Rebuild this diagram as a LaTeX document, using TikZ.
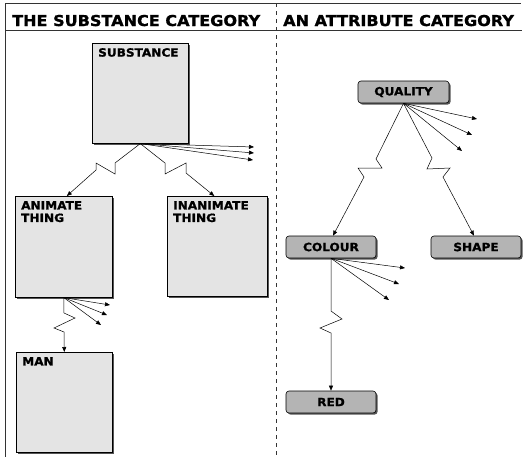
\documentclass[tikz,border=0pt]{standalone}
\usepackage{fontspec}
\setmainfont{DejaVu Sans}
\newfontfamily\heavy{DejaVu Sans Bold}[FakeBold=1.2,FakeStretch=1.07]
\usetikzlibrary{arrows.meta,shadows}
\definecolor{boxfill}{HTML}{E4E4E4}
\definecolor{tagfill}{HTML}{B4B4B4}
\definecolor{shadowgray}{HTML}{555555}
\definecolor{rulegray}{HTML}{333333}
\newcommand{\headfont}{\fontsize{15}{17}\selectfont\heavy}
\newcommand{\boxfont}{\fontsize{11.3}{12.5}\selectfont\heavy}
\begin{document}
\begin{tikzpicture}[x=1pt,y=-1pt,
  frame/.style={draw=rulegray,line width=0.9pt},
  divider/.style={draw=rulegray,line width=0.9pt,dash pattern=on 4pt off 4pt},
  catbox/.style={draw=black,line width=0.6pt,fill=boxfill,anchor=north west,
    minimum width=96pt,minimum height=100pt,inner sep=0pt,
    drop shadow={shadow xshift=1.6pt,shadow yshift=-1.6pt,fill=shadowgray,opacity=1}},
  boxlabel/.style={anchor=north west,inner sep=0pt,align=left,font=\boxfont,
    xshift=6pt,yshift=-5pt},
  tag/.style={draw=black,line width=0.6pt,fill=tagfill,rounded corners=3pt,
    minimum width=90pt,minimum height=22pt,inner sep=0pt,font=\boxfont,
    drop shadow={shadow xshift=1.6pt,shadow yshift=-1.6pt,fill=shadowgray,opacity=1}},
  link/.style={draw=black,line width=0.5pt,-{Triangle[length=5pt,width=4pt]}},
]
\useasboundingbox (0,0) rectangle (523,459);

% frame and column headers
\coordinate (tl) at (5,3);
\coordinate (tr) at (521,3);
\coordinate (hl) at (5,30);
\coordinate (hr) at (522,30);
\coordinate (bl) at (5,457);
\coordinate (dt) at (276,3);
\coordinate (db) at (276,457);
\draw[frame] (tl) -- (tr);
\draw[frame] (hl) -- (hr);
\draw[frame] (tl) -- (bl);
\draw[divider] (dt) -- (db);
\node[anchor=base west,inner sep=0pt,font=\headfont] (h1) at (12,26) {THE SUBSTANCE CATEGORY};
\node[anchor=base west,inner sep=0pt,font=\headfont] (h2) at (283,26) {AN ATTRIBUTE CATEGORY};

% substance category boxes
\node[catbox,label={[boxlabel]north west:SUBSTANCE}] (sub) at (92,43) {};
\node[catbox,minimum width=97pt,minimum height=101pt,
  label={[boxlabel]north west:ANIMATE\\THING}] (ani) at (15,196) {};
\node[catbox,minimum width=100pt,
  label={[boxlabel]north west:INANIMATE\\THING}] (inan) at (167,196) {};
\node[catbox,label={[boxlabel]north west:MAN}] (man) at (16,352) {};

% attribute category tags
\node[tag,minimum width=91pt] (qual) at (403.5,92) {QUALITY};
\node[tag] (col) at (331,247) {COLOUR};
\node[tag] (shp) at (476,247) {SHAPE};
\node[tag] (red) at (331,402) {RED};

% open-ended fans of further subdivisions
\coordinate (sf1) at (254,147);
\coordinate (sf2) at (254,153);
\coordinate (sf3) at (253,160);
\draw[link] (sub.south) -- (sf1);
\draw[link] (sub.south) -- (sf2);
\draw[link] (sub.south) -- (sf3);

\coordinate (af1) at (110,305);
\coordinate (af2) at (107,315);
\coordinate (af3) at (101,325);
\draw[link] (ani.south) -- (af1);
\draw[link] (ani.south) -- (af2);
\draw[link] (ani.south) -- (af3);

\coordinate (qf1) at (477,119);
\coordinate (qf2) at (472,135);
\coordinate (qf3) at (462,151);
\draw[link] (qual.south) -- (qf1);
\draw[link] (qual.south) -- (qf2);
\draw[link] (qual.south) -- (qf3);

\coordinate (cf1) at (405,268);
\coordinate (cf2) at (399,284);
\coordinate (cf3) at (389,300);
\draw[link] (col.south) -- (cf1);
\draw[link] (col.south) -- (cf2);
\draw[link] (col.south) -- (cf3);

% broken (lightning) links
\draw[link] (sub.south) -- (115,163) -- (115,174) -- (96,163) -- (96,170)
  -- ([xshift=3pt]ani.north);
\draw[link] (sub.south) -- (165,163) -- (165,174) -- (186,163) -- (186,173)
  -- ([xshift=-3pt]inan.north);
\draw[link] (ani.south) -- (64,313) -- (75,318) -- (54,328) -- (64,332)
  -- (man.north);
\draw[link] (qual.south) -- (376,159) -- (382,168) -- (358,168) -- (364,177)
  -- ([xshift=2pt]col.north);
\draw[link] (qual.south) -- (432,158) -- (427,169) -- (450,168) -- (443,177)
  -- ([xshift=-2pt]shp.north);
\draw[link] (col.south) -- (331,311) -- (342,319) -- (320,328) -- (331,333)
  -- (red.north);
\end{tikzpicture}
\end{document}
